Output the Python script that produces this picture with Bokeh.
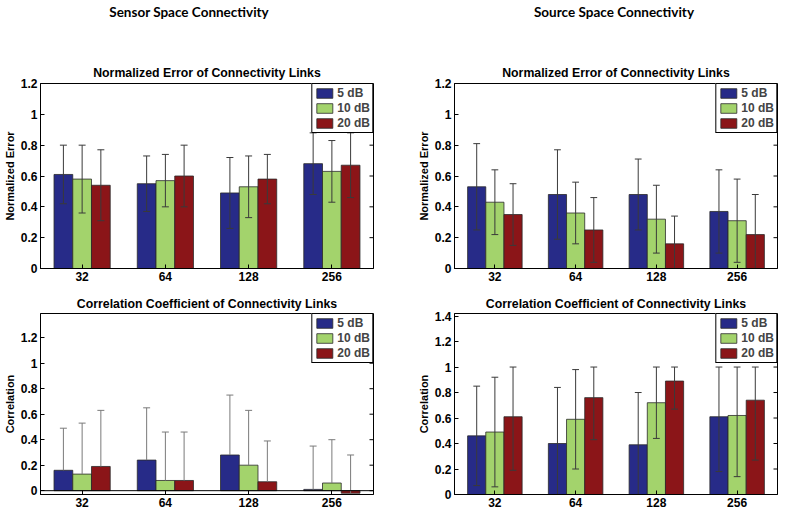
from bokeh.plotting import figure
from bokeh.layouts import column, row
from bokeh.models import Range1d, FixedTicker, Title, Span, ColumnDataSource, Div
from bokeh.embed import file_html
from bokeh.resources import INLINE

# ---------------- data ----------------
group_labels = ["32", "64", "128", "256"]
group_pos = [1, 2, 3, 4]
snr_labels = ["5 dB", "10 dB", "20 dB"]
bar_colors = ["#272b88", "#a3d36c", "#8b1518"]
bar_offsets = [-0.225, 0.0, 0.225]

# Sensor space - normalized error (mean, lower, upper) for 5 / 10 / 20 dB
sensor_err_mean = [[0.61, 0.55, 0.49, 0.68], [0.58, 0.57, 0.53, 0.63], [0.54, 0.60, 0.58, 0.67]]
sensor_err_low = [[0.42, 0.37, 0.26, 0.48], [0.36, 0.40, 0.33, 0.43], [0.31, 0.40, 0.42, 0.46]]
sensor_err_high = [[0.80, 0.73, 0.72, 0.88], [0.80, 0.74, 0.73, 0.83], [0.77, 0.80, 0.74, 0.88]]

# Source space - normalized error
source_err_mean = [[0.53, 0.48, 0.48, 0.37], [0.43, 0.36, 0.32, 0.31], [0.35, 0.25, 0.16, 0.22]]
source_err_low = [[0.25, 0.19, 0.25, 0.10], [0.22, 0.16, 0.10, 0.04], [0.15, 0.04, -0.02, -0.04]]
source_err_high = [[0.81, 0.77, 0.71, 0.64], [0.64, 0.56, 0.54, 0.58], [0.55, 0.46, 0.34, 0.48]]

# Sensor space - correlation (only upper error shown)
sensor_cor_mean = [[0.16, 0.24, 0.28, 0.01], [0.13, 0.08, 0.20, 0.06], [0.19, 0.08, 0.07, -0.02]]
sensor_cor_high = [[0.49, 0.65, 0.75, 0.35], [0.53, 0.46, 0.63, 0.40], [0.63, 0.46, 0.39, 0.28]]

# Source space - correlation
source_cor_mean = [[0.46, 0.40, 0.39, 0.61], [0.49, 0.59, 0.72, 0.62], [0.61, 0.76, 0.89, 0.74]]
source_cor_low = [[0.07, -0.04, -0.02, 0.18], [0.06, 0.20, 0.44, 0.14], [0.19, 0.43, 0.67, 0.27]]
source_cor_high = [[0.85, 0.84, 0.80, 1.00], [0.92, 0.98, 1.00, 1.00], [1.00, 1.00, 1.00, 1.00]]

yticks_err = [0, 0.2, 0.4, 0.6, 0.8, 1, 1.2]
yticks_cor_src = [0, 0.2, 0.4, 0.6, 0.8, 1, 1.2, 1.4]
ytick_text = {0: "0", 0.2: "0.2", 0.4: "0.4", 0.6: "0.6", 0.8: "0.8", 1: "1", 1.2: "1.2", 1.4: "1.4"}

FONT = "Liberation Sans"


def make_panel(title, ylabel, means, lows, highs, yr, yticks, fw, fh,
               bl, br, bt, bb, err_color, title_standoff, baseline=False):
    xr = Range1d(0.5, 4.5)
    p = figure(frame_width=fw, frame_height=fh,
               x_range=xr, y_range=Range1d(*yr),
               output_backend="svg", toolbar_location=None,
               min_border_left=bl, min_border_right=br,
               min_border_top=bt, min_border_bottom=bb,
               background_fill_color="white", border_fill_color="white")
    p.xgrid.visible = False
    p.ygrid.visible = False
    p.outline_line_color = "black"
    p.outline_line_alpha = 1.0
    p.outline_line_width = 1

    for k, lab in enumerate(snr_labels):
        xs = [g + bar_offsets[k] for g in group_pos]
        src = ColumnDataSource(dict(x=xs, top=means[k]))
        p.vbar(x="x", top="top", bottom=0, width=0.225, source=src,
               fill_color=bar_colors[k], line_color="#2a2a2a", line_width=0.8,
               legend_label=lab)

    for k in range(len(snr_labels)):
        xs = [g + bar_offsets[k] for g in group_pos]
        lo = lows[k] if lows is not None else means[k]
        hi = highs[k]
        esrc = ColumnDataSource(dict(x=xs, lo=lo, hi=hi,
                                     cl=[x - 0.042 for x in xs],
                                     cr=[x + 0.042 for x in xs]))
        p.segment(x0="x", y0="lo", x1="x", y1="hi", source=esrc,
                  line_color=err_color, line_width=1)
        p.segment(x0="cl", y0="hi", x1="cr", y1="hi", source=esrc,
                  line_color=err_color, line_width=1)
        if lows is not None:
            p.segment(x0="cl", y0="lo", x1="cr", y1="lo", source=esrc,
                      line_color=err_color, line_width=1)

    if baseline:
        p.add_layout(Span(location=0, dimension="width", line_color="black",
                          line_width=1))

    # inward tick marks on the right edge of the box
    tick_len = 4.0 / fw * (xr.end - xr.start)
    rt = ColumnDataSource(dict(y=yticks, x0=[xr.end - tick_len] * len(yticks),
                               x1=[xr.end] * len(yticks)))
    p.segment(x0="x0", y0="y", x1="x1", y1="y", source=rt,
              line_color="black", line_width=1)

    # axes
    p.xaxis.ticker = FixedTicker(ticks=group_pos)
    p.xaxis.major_label_overrides = {g: t for g, t in zip(group_pos, group_labels)}
    p.yaxis.ticker = FixedTicker(ticks=yticks)
    p.yaxis.major_label_overrides = {t: ytick_text[t] for t in yticks}
    for ax in (p.xaxis[0], p.yaxis[0]):
        ax.major_tick_in = 4
        ax.major_tick_out = 0
        ax.minor_tick_line_color = None
        ax.axis_line_color = "black"
        ax.major_tick_line_color = "black"
        ax.major_label_text_font = FONT
        ax.major_label_text_font_style = "bold"
        ax.major_label_text_font_size = "12px"
        ax.major_label_text_color = "black"
        ax.major_label_standoff = 3
    p.yaxis.axis_label = ylabel
    p.yaxis.axis_label_text_font = FONT
    p.yaxis.axis_label_text_font_style = "bold"
    p.yaxis.axis_label_text_font_size = "11px"
    p.yaxis.axis_label_text_color = "black"
    p.yaxis.axis_label_standoff = 2

    # legend
    lg = p.legend[0]
    lg.location = "top_right"
    lg.margin = 0
    lg.padding = 2
    lg.spacing = 1
    lg.glyph_width = 20
    lg.glyph_height = 12
    lg.label_height = 13
    lg.label_standoff = 3
    lg.border_line_color = "black"
    lg.border_line_width = 1
    lg.border_line_alpha = 1
    lg.label_text_font = FONT
    lg.label_text_font_style = "bold"
    lg.label_text_font_size = "12px"
    lg.background_fill_alpha = 1

    p.add_layout(Title(text=title, align="center", text_font=FONT,
                       text_font_style="bold", text_font_size="12.3px",
                       text_color="black", standoff=title_standoff), "above")
    return p


def super_title(text, width, left):
    html = ('<div style="width:200px;margin-left:%dpx;text-align:center;'
            'font-family:Lato;font-weight:bold;font-size:13.5px;line-height:14px;'
            'color:black;white-space:nowrap">%s</div>' % (left, text))
    return Div(text=html, width=width, height=30)


p1 = make_panel("Normalized Error of Connectivity Links", "Normalized Error",
                sensor_err_mean, sensor_err_low, sensor_err_high, (0, 1.2),
                yticks_err, 333, 185, 34, 20, 43, 18, "#3a3a3a", 7)
p2 = make_panel("Normalized Error of Connectivity Links", "Normalized Error",
                source_err_mean, source_err_low, source_err_high, (0, 1.2),
                yticks_err, 323, 185, 61, 13, 43, 18, "#3a3a3a", 8)
p3 = make_panel("Correlation Coefficient of Connectivity Links", "Correlation",
                sensor_cor_mean, None, sensor_cor_high, (-0.03, 1.39),
                yticks_err, 333, 181, 34, 20, 27, 17, "#7a7a7a", 5, baseline=True)
p4 = make_panel("Correlation Coefficient of Connectivity Links", "Correlation",
                source_cor_mean, source_cor_low, source_cor_high, (0, 1.42),
                yticks_cor_src, 323, 181, 61, 13, 27, 17, "#3a3a3a", 5)

d1 = super_title("Sensor Space Connectivity", 387, 84)
d2 = super_title("Source Space Connectivity", 397, 112)

layout = column(row(d1, d2), row(p1, p2), row(p3, p4))
open("out.html", "w").write(file_html(layout, INLINE))
